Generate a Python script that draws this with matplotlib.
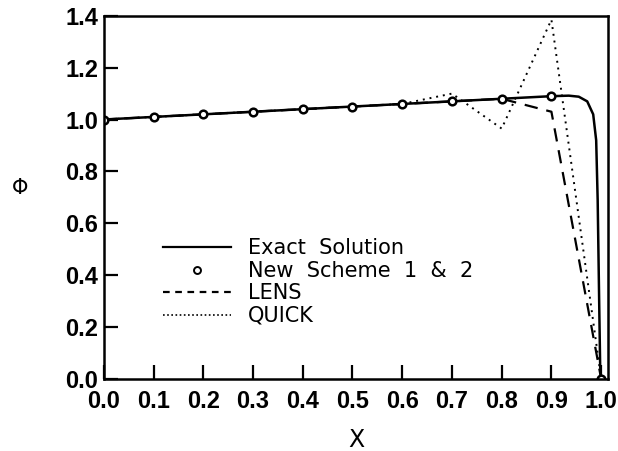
import matplotlib
matplotlib.use("Agg")
import matplotlib.pyplot as plt
from matplotlib.lines import Line2D

# values
x_exact = [0.0, 0.1, 0.2, 0.3, 0.4, 0.5, 0.6, 0.7, 0.8, 0.9,
           0.935, 0.955, 0.972, 0.984, 0.990, 0.993, 0.996, 0.998, 1.0]
phi_exact = [1.00, 1.01, 1.02, 1.03, 1.04, 1.05, 1.06, 1.07, 1.08, 1.09,
             1.092, 1.088, 1.07, 1.02, 0.92, 0.69, 0.30, 0.05, 0.0]

x_nodes = [0.0, 0.1, 0.2, 0.3, 0.4, 0.5, 0.6, 0.7, 0.8, 0.9, 1.0]
phi_new = [1.00, 1.01, 1.02, 1.03, 1.04, 1.05, 1.06, 1.07, 1.08, 1.09, 0.0]
phi_lens = [1.00, 1.01, 1.02, 1.03, 1.04, 1.05, 1.06, 1.07, 1.08, 1.03, 0.0]
phi_quick = [1.00, 1.01, 1.02, 1.03, 1.04, 1.05, 1.06, 1.10, 0.965, 1.385, 0.0]

x_ticks = [0.0, 0.1, 0.2, 0.3, 0.4, 0.5, 0.6, 0.7, 0.8, 0.9, 1.0]
y_ticks = [0.0, 0.2, 0.4, 0.6, 0.8, 1.0, 1.2, 1.4]

tick_font = dict(family=["Liberation Sans", "DejaVu Sans"], weight="bold", size=17)

fig = plt.figure(figsize=(6.18, 4.51), dpi=100)
ax = fig.add_axes([0.168, 0.160, 0.816, 0.805])

ax.plot(x_exact, phi_exact, color="black", lw=1.8)
ax.plot(x_nodes, phi_lens, color="black", lw=1.6, ls=(0, (6, 4)))
ax.plot(x_nodes, phi_quick, color="black", lw=1.4, ls=(0, (1, 2.5)))
ax.plot(x_nodes, phi_new, ls="none", marker="o", ms=5.5, mfc="white",
        mec="black", mew=1.8)

ax.set_xlim(0, 1.014)
ax.set_ylim(0, 1.4)
ax.set_xticks(x_ticks)
ax.set_yticks(y_ticks)
ax.set_xticklabels([f"{v:.1f}" for v in x_ticks], fontdict=tick_font)
ax.set_yticklabels([f"{v:.1f}" for v in y_ticks], fontdict=tick_font)
ax.tick_params(direction="in", length=10, width=1.6, top=False, right=False)
ax.tick_params(axis="x", pad=8)
ax.tick_params(axis="y", pad=4)
for s in ax.spines.values():
    s.set_linewidth(1.8)

ax.set_xlabel("X", fontsize=17, labelpad=11)
ax.set_ylabel("Φ", fontsize=15, rotation=0, va="center")
ax.yaxis.set_label_coords(-0.167, 0.526)

handles = [
    Line2D([], [], color="black", lw=1.6),
    Line2D([], [], ls="none", marker="o", ms=5, mfc="white", mec="black", mew=1.4),
    Line2D([], [], color="black", lw=1.6, ls=(0, (3, 2.5))),
    Line2D([], [], color="black", lw=1.2, ls=(0, (1, 1.5))),
]
labels = ["Exact  Solution", "New  Scheme  1  &  2", "LENS", "QUICK"]
leg = ax.legend(handles, labels, loc="upper left", bbox_to_anchor=(0.10, 0.41),
                frameon=False, handlelength=3.3, handletextpad=0.8,
                labelspacing=0.12, borderaxespad=0,
                prop=dict(family="DejaVu Sans", size=15))

fig.savefig("out.png", dpi=100)
